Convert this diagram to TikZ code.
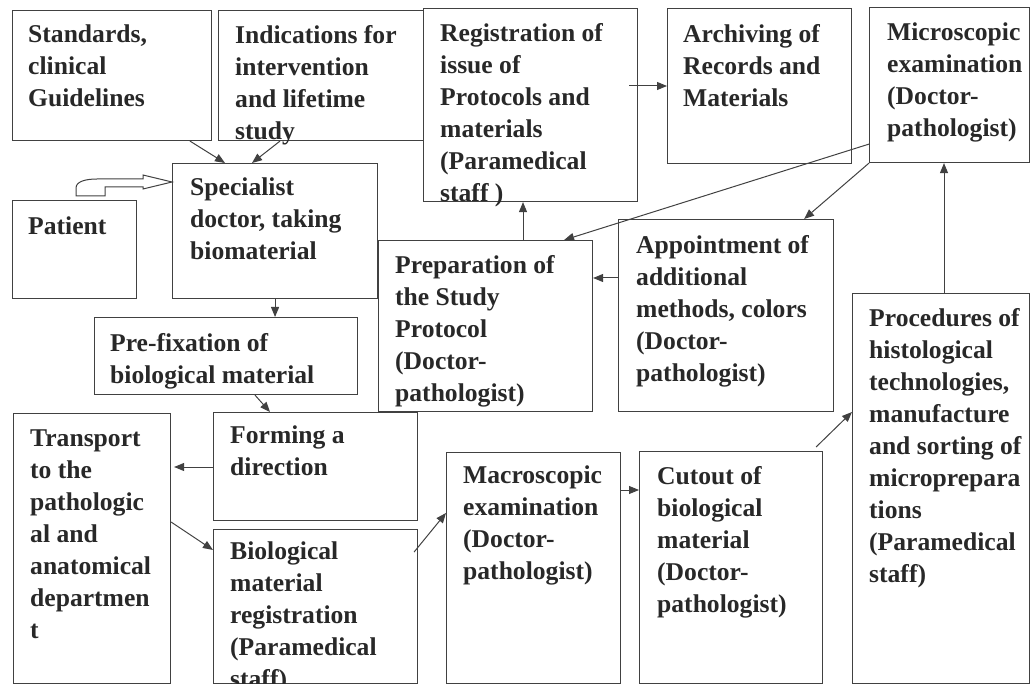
\documentclass[tikz,border=0pt]{standalone}
\usepackage{fontspec}
\setmainfont{Liberation Serif}
\usepackage{xcolor}
\usepackage{tikz}
\usetikzlibrary{arrows.meta, calc, positioning}
\definecolor{inkgray}{RGB}{40, 40, 40}
\definecolor{linegray}{RGB}{65, 65, 65}

\begin{document}
\begin{tikzpicture}[x=1pt, y=-1pt, >={Triangle[length=10pt, width=8pt]},
  box/.style={draw=linegray, line width=1.1pt, anchor=north west, inner sep=0pt},
  txt/.style={inner sep=0pt, align=left, text=inkgray,
    font=\fontsize{25.6}{32}\selectfont\bfseries},
  conn/.style={draw=linegray, line width=1pt}]

  \useasboundingbox (0,0) rectangle (1031,684);

  % Boxes
  \node[box, minimum width=199, minimum height=130] (std)   at (12,10)   {};
  \node[box, minimum width=205, minimum height=130] (ind)   at (218,10)  {};
  \node[box, minimum width=214, minimum height=193] (reg)   at (423,8)   {};
  \node[box, minimum width=184, minimum height=155] (arc)   at (667,8)   {};
  \node[box, minimum width=160, minimum height=155] (mic)   at (869,7)   {};
  \node[box, minimum width=205, minimum height=135] (spec)  at (172,163) {};
  \node[box, minimum width=124, minimum height=98]  (pat)   at (12,200)  {};
  \node[box, minimum width=214, minimum height=171] (prep)  at (378,240) {};
  \node[box, minimum width=215, minimum height=192] (app)   at (618,219) {};
  \node[box, minimum width=263, minimum height=77]  (pre)   at (94,317)  {};
  \node[box, minimum width=204, minimum height=108] (form)  at (213,412) {};
  \node[box, minimum width=157, minimum height=270] (trans) at (13,413)  {};
  \node[box, minimum width=204, minimum height=154] (bio)   at (213,529) {};
  \node[box, minimum width=174, minimum height=231] (mac)   at (446,452) {};
  \node[box, minimum width=183, minimum height=232] (cut)   at (639,451) {};
  \node[box, minimum width=177, minimum height=390] (proc)  at (852,293) {};

  % Box texts
  \node[txt, below right=15pt and 16pt of std.north west]   (stdtext)   {Standards,\\clinical\\Guidelines};
  \node[txt, below right=15pt and 17pt of ind.north west]   (indtext)   {Indications for\\intervention\\and lifetime\\study};
  \node[txt, below right=15pt and 17pt of reg.north west]   (regtext)   {Registration of\\issue of\\Protocols and\\materials\\(Paramedical\\staff )};
  \node[txt, below right=16pt and 16pt of arc.north west]   (arctext)   {Archiving of\\Records and\\Materials};
  \node[txt, below right=16pt and 18pt of mic.north west]   (mictext)   {Microscopic\\examination\\(Doctor-\\pathologist)};
  \node[txt, below right=15pt and 18pt of spec.north west]  (spectext)  {Specialist\\doctor, taking\\biomaterial};
  \node[txt, below right=17pt and 16pt of pat.north west]   (pattext)   {Patient};
  \node[txt, below right=15pt and 17pt of prep.north west]  (preptext)  {Preparation of\\the Study\\Protocol\\(Doctor-\\pathologist)};
  \node[txt, below right=16pt and 18pt of app.north west]   (apptext)   {Appointment of\\additional\\methods, colors\\(Doctor-\\pathologist)};
  \node[txt, below right=16pt and 16pt of pre.north west]   (pretext)   {Pre-fixation of\\biological material};
  \node[txt, below right=14pt and 17pt of form.north west]  (formtext)  {Forming a\\direction};
  \node[txt, below right=17pt and 17pt of trans.north west] (transtext) {Transport\\to the\\pathologic\\al and\\anatomical\\departmen\\t};
  \node[txt, below right=13pt and 17pt of bio.north west]   (biotext)   {Biological\\material\\registration\\(Paramedical\\staff)};
  \node[txt, below right=14pt and 17pt of mac.north west]   (mactext)   {Macroscopic\\examination\\(Doctor-\\pathologist)};
  \node[txt, below right=15pt and 18pt of cut.north west]   (cuttext)   {Cutout of\\biological\\material\\(Doctor-\\pathologist)};
  \node[txt, below right=15pt and 17pt of proc.north west]  (proctext)  {Procedures of\\histological\\technologies,\\manufacture\\and sorting of\\micropreparа\\tions\\(Paramedical\\staff)};

  % Attachment points
  \coordinate (stdout)   at ($(std.south west)+(178,0)$);
  \coordinate (indout)   at ($(ind.south west)+(62,0)$);
  \coordinate (specin1)  at ($(spec.north west)+(53,0)$);
  \coordinate (specin2)  at ($(spec.north west)+(80,0)$);
  \coordinate (pattip)   at ($(spec.north west)+(0,19)$);
  \coordinate (preout)   at ($(pre.south west)+(161,0)$);
  \coordinate (formin)   at ($(form.north west)+(57,0)$);
  \coordinate (formout)  at ($(form.north west)+(0,55)$);
  \coordinate (transout) at ($(trans.north east)+(0,109)$);
  \coordinate (bioin)    at ($(bio.north west)+(0,21)$);
  \coordinate (bioout)   at ($(bio.north east)+(-4,23)$);
  \coordinate (macin)    at ($(mac.north west)+(0,61)$);
  \coordinate (macout)   at ($(mac.north east)+(0,38)$);
  \coordinate (cutout)   at ($(cut.north east)+(-7,-4)$);
  \coordinate (procin)   at ($(proc.north west)+(0,119)$);
  \coordinate (procout)  at ($(proc.north west)+(92,0)$);
  \coordinate (micout)   at ($(mic.south west)+(0,-19)$);
  \coordinate (prepin)   at ($(prep.north east)+(-29,0)$);
  \coordinate (appin)    at ($(app.north east)+(-30,0)$);
  \coordinate (appout)   at ($(app.north west)+(0,59)$);
  \coordinate (prepout)  at ($(prep.north west)+(145,0)$);
  \coordinate (regout)   at ($(reg.north east)+(-9,78)$);

  % Patient hollow arrow
  \draw[conn, fill=white] (pattip) -- ++(-29,7) -- ++(0,-2) -- ++(-38,0) -- ++(0,9)
    -- ++(-29,0) -- ++(0,-8) .. controls +(0,-7) and +(-10,0) .. ++(21,-9)
    -- ++(46,0) -- ++(0,-4) -- cycle;

  % Arrows
  \draw[conn, ->] (stdout) -- (specin1);
  \draw[conn, ->] (indout) -- (specin2);
  \draw[conn, ->] (spec.south) -- (spec.south |- pre.north);
  \draw[conn, ->] (preout) -- (formin);
  \draw[conn, ->, shorten >=3pt] (formout) -- (formout -| trans.east);
  \draw[conn, ->] (transout) -- (bioin);
  \draw[conn, ->] (bioout) -- (macin);
  \draw[conn, ->] (macout) -- (macout -| cut.west);
  \draw[conn, ->] (cutout) -- (procin);
  \draw[conn, ->] (procout) -- (procout |- mic.south);
  \draw[conn, ->] (micout) -- (prepin);
  \draw[conn, ->] (mic.south west) -- (appin);
  \draw[conn, ->] (appout) -- (appout -| prep.east);
  \draw[conn, ->] (prepout) -- (prepout |- reg.south);
  \draw[conn, ->] (regout) -- (regout -| arc.west);

\end{tikzpicture}
\end{document}
